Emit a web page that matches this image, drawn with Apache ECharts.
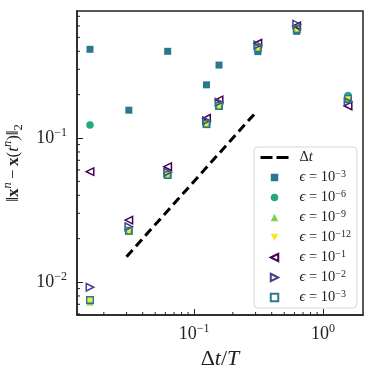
<!DOCTYPE html>
<html>
<head>
  <meta charset="utf-8" />
  <title>ECharts</title>
  <script src="https://cdn.jsdelivr.net/npm/echarts@6.0.0/dist/echarts.min.js"></script>
  <style>
    body { margin: 0; background: #fff; }
  </style>
</head>
<body>
  <div id="main" style="width: 374px;height:374px;"></div>
  <script type="text/javascript">
    // step sizes dt/T
    const dtValues = [0.015625, 0.03125, 0.0625, 0.125, 0.15625, 0.3125, 0.625, 1.5625];
    // errors, one array per method / tolerance
    const errE3 = [0.413, 0.156, 0.40, 0.234, 0.321, 0.398, 0.55, 0.185];
    const errE6 = [0.123, 0.0225, 0.0555, 0.125, 0.167, 0.42, 0.57, 0.197];
    const errE9 = [0.0073, 0.0225, 0.0553, 0.124, 0.166, 0.42, 0.57, 0.189];
    const errE12 = [0.0074, 0.0226, 0.0555, 0.125, 0.167, 0.42, 0.57, 0.187];
    const errB1 = [0.0584, 0.0269, 0.0632, 0.137, 0.184, 0.455, 0.60, 0.167];
    const errB2 = [0.0092, 0.0242, 0.0578, 0.132, 0.177, 0.443, 0.617, 0.179];
    const errB3 = [0.0075, 0.0227, 0.0553, 0.125, 0.167, 0.42, 0.569, 0.187];
    // reference slope line
    const refX = [0.03, 0.3];
    const refY = [0.015, 0.15];
    // legend names and exponents
    const seriesNames = ['dt', 'e3', 'e6', 'e9', 'e12', 'b1', 'b2', 'b3'];
    const seriesExp = [null, '−3', '−6', '−9', '−12', '−1', '−2', '−3'];
    // minor ticks
    const xMinorTicks = [0.02, 0.03, 0.04, 0.05, 0.06, 0.07, 0.08, 0.09, 0.2, 0.3, 0.4, 0.5, 0.6, 0.7, 0.8, 0.9];
    const yMinorTicks = [0.006, 0.007, 0.008, 0.009, 0.02, 0.03, 0.04, 0.05, 0.06, 0.07, 0.08, 0.09, 0.2, 0.3, 0.4, 0.5, 0.6, 0.7];

    const xMin = 0.01239, xMax = 2.04, yMin = 0.0059, yMax = 0.762;
    const FONT = "'Liberation Serif', 'DejaVu Serif', serif";
    const axisColor = '#222';
    // marker shapes (paths keep their aspect in the legend too)
    const SQUARE = 'path://M0,0L10,0L10,10L0,10Z';
    const TRI_UP = 'path://M5,0L10,10L0,10Z';
    const TRI_DOWN = 'path://M0,0L10,0L5,10Z';
    const TRI_LEFT = 'path://M0,5L10,0L10,10Z';
    const TRI_RIGHT = 'path://M0,0L10,5L0,10Z';

    var myChart = echarts.init(document.getElementById('main'));

    function pts(ys) {
      return dtValues.map((x, i) => [x, ys[i]]);
    }

    function tickLabel(v) {
      let e = Math.round(Math.log10(v));
      return '{n|10}{s|' + (e < 0 ? '−' + (-e) : e) + '}';
    }

    function minorTickSeries(ticks, isX) {
      return {
        type: 'custom',
        silent: true,
        clip: false,
        data: ticks.map(v => isX ? [v, yMin] : [xMin, v]),
        renderItem: function (params, api) {
          let p = api.coord([api.value(0), api.value(1)]);
          return {
            type: 'line',
            shape: isX ? { x1: p[0], y1: p[1], x2: p[0], y2: p[1] - 3 }
                       : { x1: p[0], y1: p[1], x2: p[0] + 3, y2: p[1] },
            style: { stroke: axisColor, lineWidth: 1 }
          };
        }
      };
    }

    function dots(name, ys, symbol, size, fill, stroke) {
      return {
        name: name, type: 'scatter', data: pts(ys), symbol: symbol,
        symbolSize: size, symbolKeepAspect: true,
        itemStyle: stroke ? { color: 'rgba(0,0,0,0)', borderColor: stroke, borderWidth: 1.5, opacity: 1 }
                          : { color: fill, opacity: 1 }
      };
    }

    let tickRich = {
      n: { fontFamily: FONT, fontSize: 18, color: '#222', lineHeight: 22 },
      s: { fontFamily: FONT, fontSize: 12, color: '#222', lineHeight: 11, verticalAlign: 'top' }
    };

    let option = {
      backgroundColor: '#fff',
      animation: false,
      grid: {
        left: 77, right: 11, top: 11, bottom: 59, outerBoundsMode: 'none', containLabel: false,
        show: true, borderColor: axisColor, borderWidth: 1.5
      },
      xAxis: {
        type: 'log',
        min: xMin,
        max: xMax,
        name: '{d|Δ}{i|t}{d|/}{i|T}',
        nameLocation: 'middle',
        nameGap: 19,
        nameTextStyle: {
          rich: {
            d: { fontFamily: FONT, fontSize: 22, color: '#222' },
            i: { fontFamily: FONT, fontSize: 22, color: '#222', fontStyle: 'italic' }
          }
        },
        axisLine: { lineStyle: { color: axisColor, width: 1.5 } },
        axisTick: { inside: true, length: 6, lineStyle: { color: axisColor, width: 1 } },
        splitLine: { show: false },
        axisLabel: { showMinLabel: false, showMaxLabel: false, margin: 8, formatter: tickLabel, rich: tickRich }
      },
      yAxis: {
        type: 'log',
        min: yMin,
        max: yMax,
        name: '{n|‖}{b|x}{s|n}{n|\u2009−\u2009}{b|x}{n|(}{i|t}{s|n}{n|)‖}{u|2}',
        nameLocation: 'middle',
        nameGap: 40,
        nameTextStyle: {
          rich: {
            n: { fontFamily: FONT, fontSize: 17, color: '#222', lineHeight: 24 },
            b: { fontFamily: FONT, fontSize: 17, color: '#222', fontWeight: 'bold', lineHeight: 24 },
            i: { fontFamily: FONT, fontSize: 17, color: '#222', fontStyle: 'italic', lineHeight: 24 },
            s: { fontFamily: FONT, fontSize: 12.5, color: '#222', fontStyle: 'italic', lineHeight: 12, verticalAlign: 'top' },
            u: { fontFamily: FONT, fontSize: 12.5, color: '#222', lineHeight: 12, verticalAlign: 'bottom' }
          }
        },
        axisLine: { lineStyle: { color: axisColor, width: 1.5 } },
        axisTick: { inside: true, length: 6, lineStyle: { color: axisColor, width: 1 } },
        splitLine: { show: false },
        axisLabel: { showMinLabel: false, showMaxLabel: false, margin: 10, formatter: tickLabel, rich: tickRich }
      },
      legend: {
        data: [{ name: 'dt', itemStyle: { opacity: 0 }, lineStyle: { type: [12, 4], width: 3 } }]
          .concat(seriesNames.slice(1)),
        orient: 'vertical',
        left: 254,
        top: 147,
        padding: [3, 6, 3, 5],
        itemGap: 4,
        itemWidth: 28,
        itemHeight: 7.5,
        symbolKeepAspect: true,
        backgroundColor: '#fff',
        borderColor: '#d6d6d6',
        borderWidth: 1,
        borderRadius: 4,
        formatter: function (name) {
          let i = seriesNames.indexOf(name);
          if (seriesExp[i] === null) return '{dd|Δ}{i|t}';
          return '{ee|ϵ}{d| = 10}{s|' + seriesExp[i] + '}';
        },
        textStyle: {
          fontSize: 14,
          rich: {
            dd: { fontFamily: FONT, fontSize: 14.5, color: '#222', lineHeight: 17, padding: [0, 0, 0, 6] },
            ee: { fontFamily: FONT, fontSize: 14.5, color: '#222', fontStyle: 'italic', lineHeight: 17, padding: [0, 0, 0, 6] },
            d: { fontFamily: FONT, fontSize: 14.5, color: '#222', lineHeight: 17 },
            i: { fontFamily: FONT, fontSize: 14.5, color: '#222', fontStyle: 'italic', lineHeight: 17 },
            s: { fontFamily: FONT, fontSize: 10, color: '#222', lineHeight: 10, verticalAlign: 'top' }
          }
        }
      },
      series: [
        {
          name: 'dt', type: 'line', data: refX.map((x, i) => [x, refY[i]]),
          symbol: 'none', itemStyle: { color: '#000' },
          lineStyle: { color: '#000', width: 3, type: [9, 5] }, z: 3
        },
        dots('e3', errE3, SQUARE, 7, '#2a788e'),
        dots('e6', errE6, 'circle', 7.5, '#22a884'),
        dots('e9', errE9, TRI_UP, 7.5, '#7ad151'),
        dots('e12', errE12, TRI_DOWN, 7.5, '#fde725'),
        dots('b1', errB1, TRI_LEFT, 7.5, null, '#440154'),
        dots('b2', errB2, TRI_RIGHT, 7.5, null, '#414487'),
        dots('b3', errB3, SQUARE, 6.5, null, '#2a788e'),
        minorTickSeries(xMinorTicks, true),
        minorTickSeries(yMinorTicks, false)
      ]
    };

    myChart.setOption(option);
  </script>
</body>
</html>
